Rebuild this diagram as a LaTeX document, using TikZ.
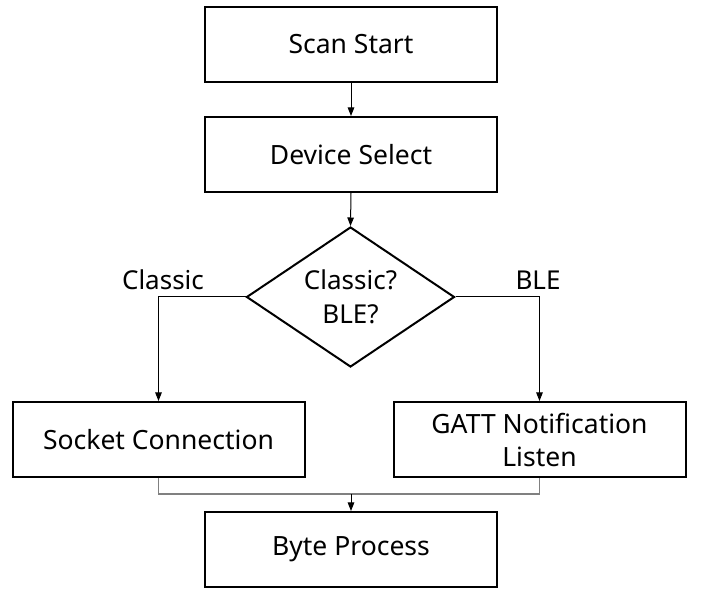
\documentclass[tikz,border=0pt]{standalone}
\usepackage{fontspec}
\setmainfont{Noto Sans}
\usetikzlibrary{shapes.geometric,arrows.meta}
\begin{document}
\begin{tikzpicture}[x=1pt,y=-1pt,
  box/.style={draw=black,line width=2pt,rectangle,minimum width=292pt,minimum height=75pt,inner sep=0pt,align=center,font=\fontsize{26.5}{33}\selectfont},
  dec/.style={draw=black,line width=2pt,diamond,minimum width=208pt,minimum height=140pt,inner sep=0pt,aspect=1.486,align=center,font=\fontsize{26}{34}\selectfont},
  lbl/.style={font=\fontsize{26}{30}\selectfont,inner sep=0pt},
  conn/.style={draw=black,line width=1pt,-{Triangle[width=6.5pt,length=8.5pt]}},
  mergeline/.style={draw=black!50,line width=1.5pt}]
\useasboundingbox (0,0) rectangle (721,601);
\node[box] (scan) at (351,44.5) {Scan Start};
\node[box] (dev) at (351,154.5) {Device Select};
\node[dec] (dia) at (350.5,297) {Classic?\\BLE?};
\node[box] (sock) at (158.5,439.5) {Socket Connection};
\node[box] (gatt) at (539.5,439.5) {GATT Notification\\Listen};
\node[box] (byte) at (351,549.5) {Byte Process};
\node[lbl] (lc) at (163,280) {Classic};
\node[lbl] (lb) at (538,280) {BLE};
\coordinate (j) at (351,494);
\draw[conn] (scan.south) -- (dev.north);
\draw[conn] (dev.south) -- (dia.north);
\draw[conn] (dia.west) -| (sock.north);
\draw[conn] (dia.east) -| (gatt.north);
\draw[mergeline] (sock.south) |- (j) -| (gatt.south);
\draw[conn] (j) -- (byte.north);
\end{tikzpicture}
\end{document}
